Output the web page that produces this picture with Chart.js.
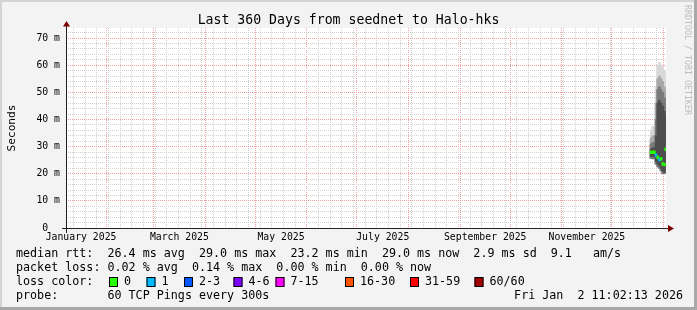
<!DOCTYPE html>
<html>
<head>
<meta charset="utf-8">
<script src="https://cdn.jsdelivr.net/npm/chart.js@4.4.1/dist/chart.umd.min.js"></script>
<style>
  html, body { margin: 0; padding: 0; background: #f3f3f3; }
  canvas { display: block; }
</style>
</head>
<body>
<canvas id="smoke" width="697" height="310"></canvas>
<script>
// graph window: 360 days ending at probe time
const endTime = Date.UTC(2026, 0, 2, 11, 2, 13);
const startTime = endTime - 360 * 86400000;

// samples (one per day, only the last days have data)
const sampleTimes = ['2025-12-24T12:00', '2025-12-25T12:00', '2025-12-26T12:00', '2025-12-27T12:00',
  '2025-12-28T12:00', '2025-12-29T12:00', '2025-12-30T12:00', '2025-12-31T12:00',
  '2026-01-01T12:00', '2026-01-02T06:00'];
const medianRtt = [27.9, 27.9, 27.9, 26.8, 26.0, 25.2, 25.5, 23.6, 23.4, 29.0];
const lossIndex = [0, 0, 0, 1, 0, 1, 0, 0, 0, 0];
const smokeMin   = [25.6, 25.5, 25.5, 23.5, 22.5, 22.0, 21.0, 20.0, 20.0, 23.0];
const smokeLow   = [26.3, 26.3, 26.3, 24.5, 23.5, 23.0, 22.0, 21.0, 20.5, 24.0];
const smokeHigh  = [29.0, 29.5, 29.5, 34.0, 46.0, 47.0, 46.0, 45.0, 43.0, 41.0];
const smokeUpper = [31.0, 31.5, 31.5, 40.0, 51.0, 52.0, 51.0, 50.0, 48.0, 46.0];
const smokeMid   = [33.0, 34.0, 34.0, 46.0, 55.0, 56.0, 55.0, 54.0, 52.0, 50.0];
const smokeMax   = [36.0, 37.5, 37.0, 52.0, 60.0, 61.0, 60.0, 59.0, 58.0, 55.0];

// legend
const lossLabels = ['0', '1', '2-3', '4-6', '7-15', '16-30', '31-59', '60/60'];
const lossColors = ['#26ff00', '#00b8ff', '#0059ff', '#7e00ff', '#ff00ff', '#ff5500', '#ff0000', '#a10000'];
const rttStats = [26.4, 29.0, 23.2, 29.0]; // avg max min now
const rttSd = 2.9;
const rttAmS = 9.1;
const lossStats = [0.02, 0.14, 0.00, 0.00]; // avg max min now
const probeText = '60 TCP Pings every 300s';
const stampText = 'Fri Jan  2 11:02:13 2026';

// axis labels
const monthLabels = ['January 2025', 'March 2025', 'May 2025', 'July 2025', 'September 2025', 'November 2025'];
const monthLabelMonths = [0, 2, 4, 6, 8, 10];
const yMax = 73.7;

const FONT = '"DejaVu Sans Mono", monospace';
const DAY = 86400000;
const t = s => Date.parse(s + ':00Z');

// x ticks: weekly (sunday) minor lines, monthly major lines, mid-month labels
const xTicks = [];
const monthStarts = [];
for (let m = 0; m <= 12; m++) {
  const v = Date.UTC(2025, m, 1);
  if (v > startTime && v < endTime) monthStarts.push(v);
}
for (let v = Date.UTC(2025, 0, 12); v < endTime; v += 7 * DAY) {
  if (v > startTime && !monthStarts.includes(v)) xTicks.push({ value: v, kind: 'minor' });
}
monthStarts.forEach(v => xTicks.push({ value: v, kind: 'major' }));
monthLabels.forEach((txt, i) => {
  const m = monthLabelMonths[i];
  const mid = (Date.UTC(2025, m, 1) + Date.UTC(2025, m + 1, 1)) / 2;
  xTicks.push({ value: mid, kind: 'label', text: txt });
});
xTicks.sort((a, b) => a.value - b.value);

const yTicks = [];
for (let v = 0; v <= 72; v += 2) yTicks.push({ value: v });

const band = (lo, hi) => lo.map((v, i) => ({ x: t(sampleTimes[i]), y: [v, hi[i]] }));

const frame = {
  id: 'frame',
  beforeDraw(chart) {
    const { ctx, chartArea: a, width, height } = chart;
    ctx.save();
    ctx.fillStyle = '#f3f3f3';
    ctx.fillRect(0, 0, width, height);
    ctx.fillStyle = '#d4d4d4';
    ctx.fillRect(0, 0, width, 2);
    ctx.fillRect(0, 0, 2, height);
    ctx.fillStyle = '#a8a8a8';
    ctx.fillRect(0, height - 3, width, 3);
    ctx.fillRect(width - 3, 0, 3, height);
    ctx.fillStyle = '#ffffff';
    ctx.fillRect(a.left, a.top, a.right - a.left, a.bottom - a.top);
    ctx.restore();
  },
  afterDraw(chart) {
    const { ctx, chartArea: a } = chart;
    ctx.save();
    // axes
    ctx.strokeStyle = '#222';
    ctx.lineWidth = 1;
    ctx.beginPath();
    ctx.moveTo(a.left + 0.5, a.bottom + 5);
    ctx.lineTo(a.left + 0.5, a.top - 4);
    ctx.moveTo(a.left - 4, a.bottom + 0.5);
    ctx.lineTo(a.right + 4, a.bottom + 0.5);
    ctx.stroke();
    ctx.fillStyle = '#7f0000';
    ctx.beginPath();
    ctx.moveTo(a.left + 0.5, a.top - 7);
    ctx.lineTo(a.left - 3, a.top - 1.5);
    ctx.lineTo(a.left + 4, a.top - 1.5);
    ctx.closePath();
    ctx.fill();
    ctx.beginPath();
    ctx.moveTo(a.right + 8, a.bottom + 0.5);
    ctx.lineTo(a.right + 2, a.bottom - 3);
    ctx.lineTo(a.right + 2, a.bottom + 4);
    ctx.closePath();
    ctx.fill();

    // title
    ctx.fillStyle = '#000';
    ctx.font = '13.2px ' + FONT;
    ctx.textAlign = 'center';
    ctx.textBaseline = 'alphabetic';
    ctx.fillText('Last 360 Days from seednet to Halo-hks', 348.5, 24);

    // legend rows
    ctx.font = '11.7px ' + FONT;
    ctx.textAlign = 'left';
    ctx.textBaseline = 'middle';
    const f1 = v => v.toFixed(1);
    const f2 = v => v.toFixed(2);
    ctx.fillText('median rtt:  ' + f1(rttStats[0]) + ' ms avg  ' + f1(rttStats[1]) + ' ms max  ' +
      f1(rttStats[2]) + ' ms min  ' + f1(rttStats[3]) + ' ms now  ' + f1(rttSd) + ' ms sd  ' +
      f1(rttAmS) + '   am/s', 16, 254);
    ctx.fillText('packet loss: ' + f2(lossStats[0]) + ' % avg  ' + f2(lossStats[1]) + ' % max  ' +
      f2(lossStats[2]) + ' % min  ' + f2(lossStats[3]) + ' % now', 16, 268);
    ctx.fillText('loss color:', 16, 282);
    const boxX = [109, 146.5, 184, 233.5, 275.5, 345, 410, 474.5];
    lossLabels.forEach((lbl, i) => {
      ctx.fillStyle = lossColors[i];
      ctx.fillRect(boxX[i], 277.5, 9, 9);
      ctx.strokeStyle = '#000';
      ctx.strokeRect(boxX[i] + 0.5, 277.5, 8, 9);
      ctx.fillStyle = '#000';
      ctx.fillText(lbl, boxX[i] + 15, 282);
    });
    ctx.fillText('probe:       ' + probeText, 16, 296);
    ctx.textAlign = 'right';
    ctx.fillText(stampText, 683, 296);

    // watermark
    ctx.translate(687.5, 5);
    ctx.rotate(Math.PI / 2);
    ctx.font = '8.3px ' + FONT;
    ctx.fillStyle = '#bdbdbd';
    ctx.textAlign = 'left';
    ctx.fillText('RRDTOOL / TOBI OETIKER', 0, 0);
    ctx.restore();
  }
};

new Chart(document.getElementById('smoke'), {
  type: 'bar',
  data: {
    datasets: [
      {
        label: 'median',
        data: band(medianRtt.map(v => v - 0.5), medianRtt.map(v => v + 0.5)),
        backgroundColor: lossIndex.map(i => lossColors[i]),
        barThickness: 2, grouped: false
      },
      { label: 'core', data: band(smokeLow, smokeHigh), backgroundColor: '#4e4e4e', barThickness: 2, grouped: false },
      { label: 'upper', data: band(smokeMin, smokeUpper), backgroundColor: '#7a7a7a', barThickness: 2, grouped: false },
      { label: 'mid', data: band(smokeMin, smokeMid), backgroundColor: '#a8a8a8', barThickness: 2, grouped: false },
      { label: 'outer', data: band(smokeMin, smokeMax), backgroundColor: '#d8d8d8', barThickness: 2, grouped: false }
    ]
  },
  options: {
    responsive: false,
    devicePixelRatio: 1,
    animation: false,
    layout: { padding: { top: 28, right: 31, left: 0, bottom: 0 } },
    plugins: { legend: { display: false }, tooltip: { enabled: false }, title: { display: false } },
    scales: {
      x: {
        type: 'linear',
        min: startTime,
        max: endTime,
        offset: false,
        grid: {
          offset: false,
          drawTicks: false,
          color: ctx => {
            const k = ctx.tick && ctx.tick.kind;
            if (k === 'major') return '#f0a0a0';
            if (k === 'minor') return '#d2d2d2';
            return 'rgba(0,0,0,0)';
          }
        },
        border: { display: false, dash: [1, 1] },
        ticks: {
          autoSkip: false,
          maxRotation: 0,
          minRotation: 0,
          padding: 4,
          color: '#000',
          font: { family: FONT, size: 9.8 },
          callback: (v, i, ticks) => ticks[i].kind === 'label' ? ticks[i].text : ''
        },
        afterBuildTicks: s => { s.ticks = xTicks.map(o => Object.assign({}, o)); },
        afterFit: s => { s.height = 82; }
      },
      y: {
        type: 'linear',
        min: 0,
        max: yMax,
        grid: {
          drawTicks: false,
          color: ctx => (ctx.tick && ctx.tick.value % 10 === 0) ? '#f0a0a0' : '#d2d2d2'
        },
        border: { display: false, dash: [1, 1] },
        ticks: {
          autoSkip: false,
          padding: 6,
          color: '#000',
          font: { family: FONT, size: 9.8 },
          callback: v => v === 0 ? '0  ' : (v % 10 === 0 ? v + ' m' : '')
        },
        title: {
          display: true,
          text: 'Seconds',
          color: '#000',
          font: { family: FONT, size: 11.2 },
          padding: { top: 5.3, bottom: 0 }
        },
        afterBuildTicks: s => { s.ticks = yTicks.map(o => Object.assign({}, o)); },
        afterFit: s => { s.width = 66; }
      }
    }
  },
  plugins: [frame]
});
</script>
</body>
</html>
